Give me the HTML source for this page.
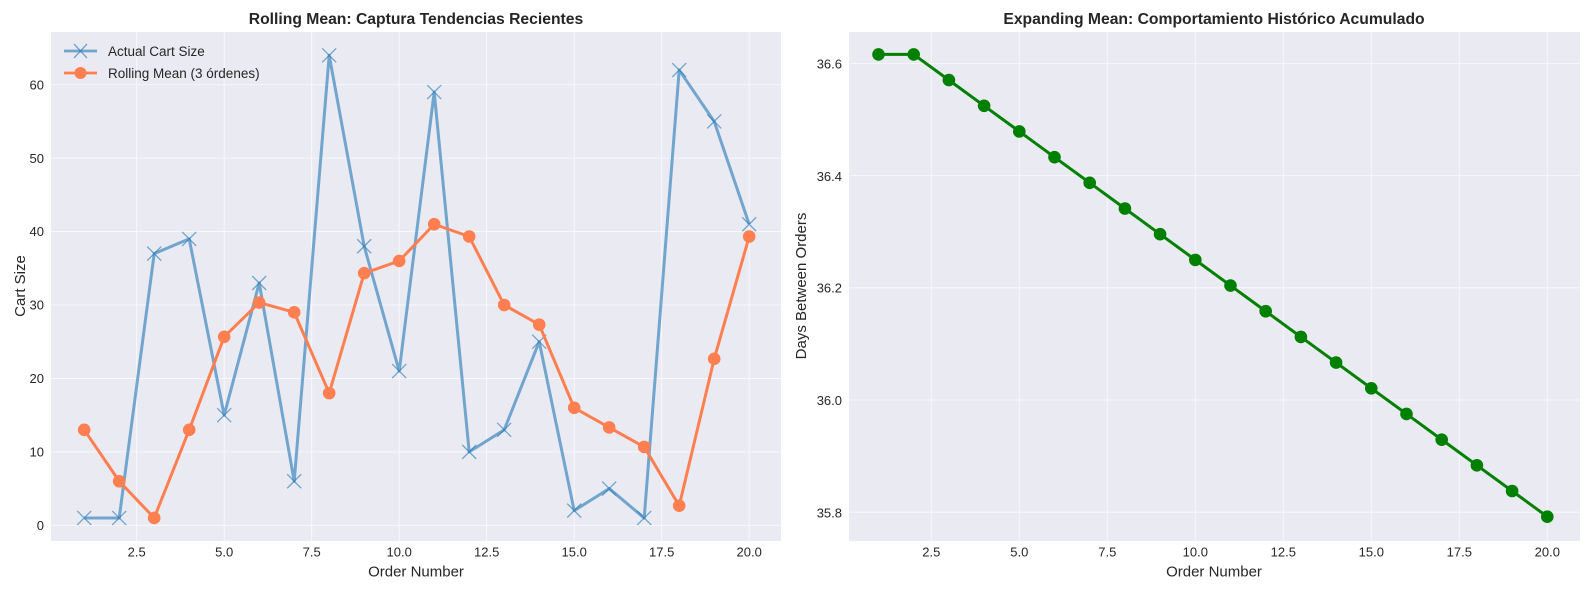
<!DOCTYPE html>
<html><head><meta charset="utf-8"><style>
html,body{margin:0;padding:0;background:#fff;}
svg{display:block;font-family:"Liberation Sans",Arial,sans-serif;}
</style></head><body>
<svg id="s" width="1590" height="590" xmlns="http://www.w3.org/2000/svg">
<rect x="51" y="32" width="730" height="509" fill="#eaeaf2"/>
<rect x="849" y="32" width="731" height="509" fill="#eaeaf2"/>
<g id="grid" stroke="#fff" stroke-width="0.8" opacity="0.8"></g>
<g id="data"></g>
<g font-size="13" fill="#262626">
<g text-anchor="end">
<text x="44" y="530">0</text><text x="44" y="456.5">10</text><text x="44" y="383">20</text>
<text x="44" y="309.5">30</text><text x="44" y="236.2">40</text><text x="44" y="162.8">50</text><text x="44" y="89.5">60</text>
<text x="842" y="517.5">35.8</text><text x="842" y="404.8">36.0</text><text x="842" y="292.5">36.2</text>
<text x="842" y="180.8">36.4</text><text x="842" y="68.5">36.6</text>
</g>
<g text-anchor="middle">
<text x="136.7" y="556.5">2.5</text><text x="224.2" y="556.5">5.0</text><text x="311.7" y="556.5">7.5</text>
<text x="399.2" y="556.5">10.0</text><text x="486.7" y="556.5">12.5</text><text x="574.2" y="556.5">15.0</text>
<text x="661.7" y="556.5">17.5</text><text x="749.2" y="556.5">20.0</text>
<text x="931.3" y="556.5">2.5</text><text x="1019.3" y="556.5">5.0</text><text x="1107.3" y="556.5">7.5</text>
<text x="1195.3" y="556.5">10.0</text><text x="1283.3" y="556.5">12.5</text><text x="1371.3" y="556.5">15.0</text>
<text x="1459.3" y="556.5">17.5</text><text x="1547.3" y="556.5">20.0</text>
</g>
</g>
<g font-size="15" fill="#262626" text-anchor="middle">
<text x="416" y="576.5">Order Number</text>
<text x="1214" y="576.5">Order Number</text>
<text transform="translate(25,286) rotate(-90)">Cart Size</text>
<text transform="translate(806,286) rotate(-90)">Days Between Orders</text>
</g>
<g font-size="15.7" font-weight="bold" fill="#262626" text-anchor="middle">
<text x="416" y="24">Rolling Mean: Captura Tendencias Recientes</text>
<text x="1214" y="24">Expanding Mean: Comportamiento Histórico Acumulado</text>
</g>
<g font-size="13.5" fill="#262626">
<line x1="64" y1="51" x2="97" y2="51" stroke="#1f77b4" stroke-opacity="0.6" stroke-width="2.8"/>
<path d="M74,44 L87,58 M74,58 L87,44" stroke="#1f77b4" stroke-opacity="0.6" stroke-width="1.3"/>
<text x="108" y="56">Actual Cart Size</text>
<line x1="64" y1="73" x2="97" y2="73" stroke="#ff7f50" stroke-width="2.8"/>
<circle cx="80.5" cy="73" r="6" fill="#ff7f50"/>
<text x="108" y="78">Rolling Mean (3 órdenes)</text>
</g>
</svg>
<script>
var NS="http://www.w3.org/2000/svg";
function el(p,t,a){var e=document.createElementNS(NS,t);for(var k in a)e.setAttribute(k,a[k]);p.appendChild(e);return e;}
var g=document.getElementById('grid'),d=document.getElementById('data');
var LX=function(x){return 84.2+(x-1)*35;},LY=function(y){return 525.3-y*7.343;};
var RX=function(x){return 878.5+(x-1)*35.2;},RY=function(v){return 400-(v-36)*561;};
for(var i=1;i<=8;i++){var x=LX(i*2.5);el(g,'line',{x1:x,y1:32,x2:x,y2:541});x=RX(i*2.5);el(g,'line',{x1:x,y1:32,x2:x,y2:541});}
for(var i=0;i<=6;i++){var y=LY(i*10);el(g,'line',{x1:51,y1:y,x2:781,y2:y});}
[35.8,36.0,36.2,36.4,36.6].forEach(function(v){var y=RY(v);el(g,'line',{x1:849,y1:y,x2:1580,y2:y});});
var A=[1,1,37,39,15,33,6,64,38,21,59,10,13,25,2,5,1,62,55,41];
var R=[13,6,1,13,25.67,30.33,29,18,34.33,36,41,39.33,30,27.33,16,13.33,10.67,2.67,22.67,39.33];
var pa=A.map(function(v,i){return LX(i+1)+','+LY(v);}).join(' ');
el(d,'polyline',{points:pa,fill:'none',stroke:'#1f77b4','stroke-opacity':0.6,'stroke-width':3,'stroke-linejoin':'round'});
A.forEach(function(v,i){var x=LX(i+1),y=LY(v);el(d,'path',{d:'M'+(x-7)+','+(y-7)+'L'+(x+7)+','+(y+7)+'M'+(x-7)+','+(y+7)+'L'+(x+7)+','+(y-7),stroke:'#1f77b4','stroke-opacity':0.6,'stroke-width':1.3});});
var pr=R.map(function(v,i){return LX(i+1)+','+LY(v);}).join(' ');
el(d,'polyline',{points:pr,fill:'none',stroke:'#ff7f50','stroke-width':3,'stroke-linejoin':'round'});
R.forEach(function(v,i){el(d,'circle',{cx:LX(i+1),cy:LY(v),r:6.3,fill:'#ff7f50'});});
var E=[];for(var i=1;i<=20;i++){E.push(i==1?36.616:36.616-(i-2)*(0.824/18));}
var pe=E.map(function(v,i){return RX(i+1)+','+RY(v);}).join(' ');
el(d,'polyline',{points:pe,fill:'none',stroke:'#008000','stroke-width':3,'stroke-linejoin':'round'});
E.forEach(function(v,i){el(d,'circle',{cx:RX(i+1),cy:RY(v),r:6.3,fill:'#008000'});});
</script>
</body></html>
